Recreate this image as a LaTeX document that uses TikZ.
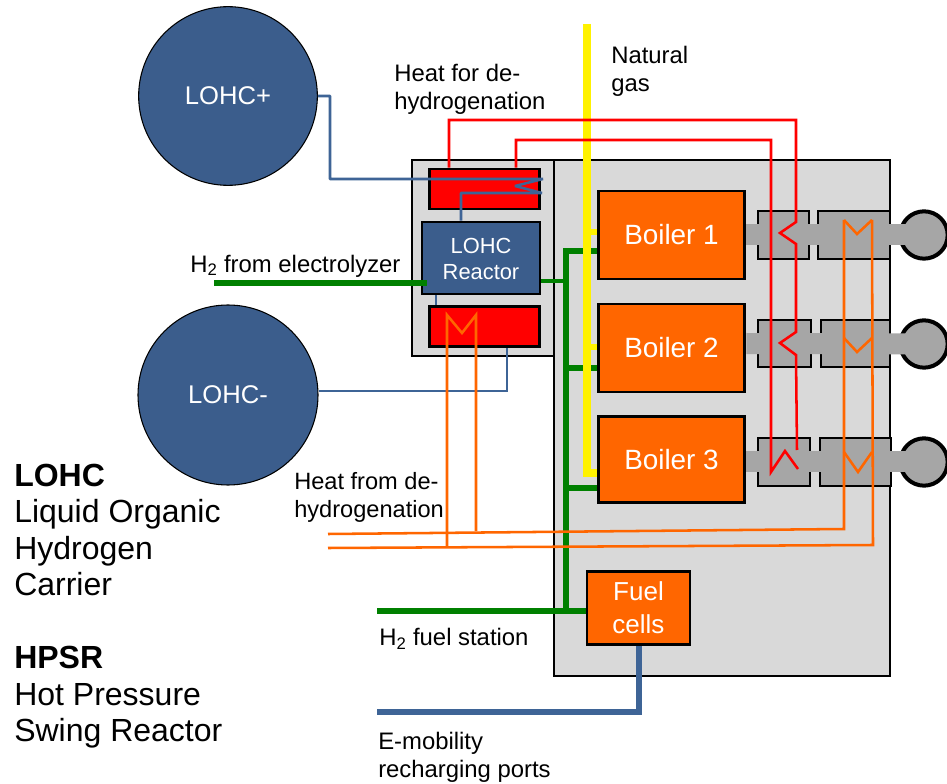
\documentclass[tikz,border=0pt]{standalone}
\usepackage{fontspec}
\setmainfont{Liberation Sans}
\definecolor{panel}{HTML}{D9D9D9}
\definecolor{steel}{HTML}{A6A6A6}
\definecolor{lohcblue}{HTML}{3B5D8C}
\definecolor{pipeblue}{HTML}{3E6496}
\definecolor{boilerorange}{HTML}{FF6600}
\definecolor{pipegreen}{HTML}{008000}
\newcommand{\fs}[2]{\fontsize{#1}{#2}\selectfont}
\tikzset{
  px/.style={x=0.75pt,y=-0.75pt},
  framed/.style={draw=black,line width=2.2pt,inner sep=0pt,anchor=center},
  panelbox/.style={framed,fill=panel,line width=1.9pt},
  redbox/.style={framed,fill=red},
  boilerbox/.style={framed,fill=boilerorange,text=white,font=\fs{20.9}{24}},
  hxbox/.style={framed,fill=steel,line width=1.9pt},
  tank/.style={circle,draw=black,line width=0.8pt,fill=lohcblue,text=white,inner sep=0pt,font=\fs{19.2}{22}},
  turbine/.style={circle,draw=black,line width=3pt,fill=steel,inner sep=0pt,minimum size=35.5pt},
  reactorbox/.style={framed,fill=lohcblue,text=white,align=center,font=\fs{16.4}{19.5}},
  fuelbox/.style={framed,fill=boilerorange,text=white,align=center,line width=1.9pt,font=\fs{19.5}{24.5}},
  label/.style={align=left,anchor=west,inner sep=0pt,text=black,font=\fs{17.9}{21}},
  bigtext/.style={align=left,anchor=west,inner sep=0pt,text=black,font=\fs{24}{27.4}},
  redpipe/.style={draw=red,line width=1.9pt,line join=miter},
  orangepipe/.style={draw=boilerorange,line width=1.9pt,line join=miter},
  bluepipe/.style={draw=pipeblue,line width=1.9pt,line join=miter},
  bluemain/.style={draw=pipeblue,line width=4pt,line join=miter},
  greenpipe/.style={draw=pipegreen,line width=4pt,line join=miter},
  yellowpipe/.style={draw=yellow,line width=6pt,line join=miter},
  steelpipe/.style={draw=steel,line width=15.75pt}
}
\begin{document}
\begin{tikzpicture}[px]
\clip (0,0) rectangle (947,784);
\fill[white] (0,0) rectangle (947,784);

% panels
\node[panelbox,minimum width=106.5pt,minimum height=147pt] (leftpanel) at (483,258) {};
\node[panelbox,minimum width=252pt,minimum height=387pt] (rightpanel) at (722,418) {};

% red heat boxes and reactor
\node[redbox,minimum width=83pt,minimum height=30pt] (redtop) at (484.5,189) {};
\node[redbox,minimum width=83pt,minimum height=30.5pt] (redbot) at (484.5,326.5) {};
\node[reactorbox,minimum width=88.5pt,minimum height=54pt,text depth=0pt] (reactor) at (481,258) {\rule{0pt}{13pt}LOHC\\Reactor};

% tanks
\node[tank,minimum size=134pt] (tankplus) at (228,96) {LOHC+};
\node[tank,minimum size=135pt] (tankminus) at (228,395) {LOHC-};

% heat exchangers and turbines
\node[hxbox,minimum width=38pt,minimum height=36pt] (hxAa) at (783.5,235) {};
\node[hxbox,minimum width=54pt,minimum height=36pt] (hxAb) at (854,235) {};
\node[hxbox,minimum width=40pt,minimum height=35pt] (hxBa) at (784.5,343.5) {};
\node[hxbox,minimum width=52pt,minimum height=35pt] (hxBb) at (855.5,343.5) {};
\node[hxbox,minimum width=39pt,minimum height=36pt] (hxCa) at (784,462) {};
\node[hxbox,minimum width=53pt,minimum height=36pt] (hxCb) at (855.5,462) {};
\node[turbine] (turbA) at (924,235) {};
\node[turbine] (turbB) at (924,344) {};
\node[turbine] (turbC) at (924,462) {};

% boilers
\node[boilerbox,minimum width=110pt,minimum height=66pt] (boilerA) at (671.5,235) {Boiler 1};
\node[boilerbox,minimum width=110pt,minimum height=66pt] (boilerB) at (671.5,348) {Boiler 2};
\node[boilerbox,minimum width=110pt,minimum height=65pt] (boilerC) at (671.5,459.5) {Boiler 3};
\node[fuelbox,minimum width=77pt,minimum height=55pt] (fuel) at (638.5,608) {Fuel\\cells};

% steam pipes
\draw[steelpipe] (boilerA.east |- hxAa) -- (turbA.center);
\draw[steelpipe] (boilerB.east |- hxBa) -- (turbB.center);
\draw[steelpipe] (boilerC.east |- hxCa) -- (turbC.center);

% green hydrogen
\coordinate (h2in) at (214,283);
\coordinate (h2inend) at (427,283);
\coordinate (trunk) at (566,251);
\coordinate (trunkbot) at (566,613);
\coordinate (reactorout) at (568,281);
\coordinate (stationend) at (377,611);
\draw[greenpipe] (h2in) -- (h2inend);
\draw[greenpipe,line width=3.6pt] (reactor.east |- reactorout) -- (reactorout);
\draw[greenpipe] (boilerA.west |- trunk) -- (trunk) -- (trunkbot);
\draw[greenpipe] (trunk |- 0,368) -- (boilerB.west |- 0,368);
\draw[greenpipe] (trunk |- 0,488) -- (boilerC.west |- 0,488);
\draw[greenpipe] (stationend) -- (fuel.west |- stationend);

% natural gas
\coordinate (gastop) at (587,24);
\coordinate (gasbot) at (587,473);
\draw[yellowpipe] (gastop) -- (gasbot) -- (boilerC.west |- gasbot);
\draw[yellowpipe,line width=5.2pt] (gastop |- 0,232) -- (boilerA.west |- 0,232);
\draw[yellowpipe,line width=5.2pt] (gastop |- 0,347) -- (boilerB.west |- 0,347);

% blue LOHC pipes
\coordinate (plusA) at (330,96);
\coordinate (plusB) at (330,179);
\coordinate (plusC) at (543,179);
\coordinate (plusTip) at (515,186);
\coordinate (plusD) at (542,193);
\coordinate (plusE) at (461,193);
\draw[bluepipe,line join=bevel] (tankplus.east |- plusA) -- (plusA) -- (plusB) -- (plusC) -- (plusTip) -- (plusD) -- (plusE) -- (plusE |- reactor.north);
\coordinate (minusA) at (507,391);
\draw[bluepipe] (tankminus.east |- minusA) -- (minusA) -- (minusA |- redbot.south);
\coordinate (linkX) at (436,300);
\draw[bluepipe] (linkX |- reactor.south) -- (linkX |- redbot.north);

% fuel cell output
\coordinate (emobEnd) at (377,712);
\coordinate (emobCorner) at (639,712);
\draw[bluemain] (fuel.south -| emobCorner) -- (emobCorner) -- (emobEnd);

% red heat pipes
\coordinate (ra) at (449,120);
\coordinate (rb) at (796,120);
\coordinate (sa) at (516,140);
\coordinate (sb) at (771,140);
\draw[redpipe] (ra |- redtop.north) -- (ra) -- (rb) -- (796,222) -- (780,233) -- (796,244) -- (796,332) -- (780,343) -- (796,355) -- (797,450);
\draw[redpipe] (sa |- redtop.north) -- (sa) -- (sb) -- (771,472) -- (785,451) -- (798,469);

% orange heat pipes
\coordinate (oa) at (328,534);
\coordinate (ob) at (844,529);
\coordinate (pa) at (328,548);
\coordinate (pb) at (873,545);
\draw[orangepipe] (oa) -- (ob) -- (844,220);
\draw[orangepipe] (pa) -- (pb) -- (872,220);
\draw[orangepipe] (844,220) -- (857,234) -- (872,220);
\draw[orangepipe] (844,338) -- (857,352) -- (872,338);
\draw[orangepipe] (844,452) -- (858,472) -- (872,452);
\draw[orangepipe] (447,547) -- (447,315) -- (462,333) -- (476,315) -- (476,531);

% labels
\node[label] (tgas) at (611,71.5) {Natural\\gas};
\node[label] (theatin) at (394,89.5) {Heat for de-\\hydrogenation};
\node[label] (telec) at (190,266) {H\textsubscript{2} from electrolyzer};
\node[label,font=\fs{17.7}{21}] (theatout) at (294,497) {Heat from de-\\hydrogenation};
\node[label] (tstation) at (379,639) {H\textsubscript{2} fuel station};
\node[label] (temob) at (378,757) {E-mobility\\recharging ports};
\node[bigtext] (tlohc) at (14,530) {\textbf{LOHC}\\Liquid Organic\\Hydrogen\\Carrier};
\node[bigtext] (thpsr) at (14,697.5) {\textbf{HPSR}\\Hot Pressure\\Swing Reactor};
\end{tikzpicture}
\end{document}
